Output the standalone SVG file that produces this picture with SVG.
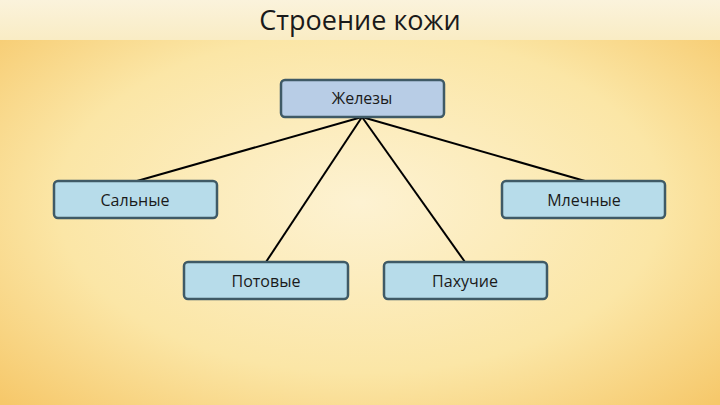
<svg xmlns="http://www.w3.org/2000/svg" width="720" height="405" viewBox="0 0 720 405">
<defs>
<radialGradient id="bg" cx="50%" cy="50%" r="70%">
<stop offset="0" stop-color="#fdf2d2"/>
<stop offset="0.6" stop-color="#fbe6a6"/>
<stop offset="1" stop-color="#f6c86a"/>
</radialGradient>
<linearGradient id="top" x1="0" y1="0" x2="0" y2="1">
<stop offset="0" stop-color="#fbf3dc"/>
<stop offset="1" stop-color="#f9ecc4"/>
</linearGradient>
</defs>
<style>
.b{fill:#b7dcea;stroke:#3f5a66;stroke-width:2.5}
.r{fill:#b8cde6;stroke:#3f5a66;stroke-width:2.5}
text{font-family:"Open Sans","Noto Sans",sans-serif;font-size:16px;fill:#1a1a1a;text-anchor:middle}
.c line{stroke:#000;stroke-width:2}
</style>
<rect width="720" height="405" fill="url(#bg)"/>
<rect width="720" height="40" fill="url(#top)"/>
<text x="360" y="30" style="font-size:27px">Строение кожи</text>
<g class="c">
<line x1="362" y1="117" x2="137" y2="181"/>
<line x1="362" y1="117" x2="585" y2="181"/>
<line x1="362" y1="117" x2="266" y2="262"/>
<line x1="362" y1="117" x2="465" y2="262"/>
</g>
<g id="n0"><rect class="r" x="281" y="80" width="163" height="37" rx="4"/><text x="362" y="104">Железы</text></g>
<g id="n1"><rect class="b" x="54" y="181" width="163" height="37" rx="4"/><text x="135" y="206">Сальные</text></g>
<g id="n2"><rect class="b" x="502" y="181" width="163" height="37" rx="4"/><text x="584" y="206">Млечные</text></g>
<g id="n3"><rect class="b" x="184" y="262" width="164" height="37" rx="4"/><text x="266" y="287">Потовые</text></g>
<g id="n4"><rect class="b" x="384" y="262" width="163" height="37" rx="4"/><text x="465" y="287">Пахучие</text></g>
</svg>
